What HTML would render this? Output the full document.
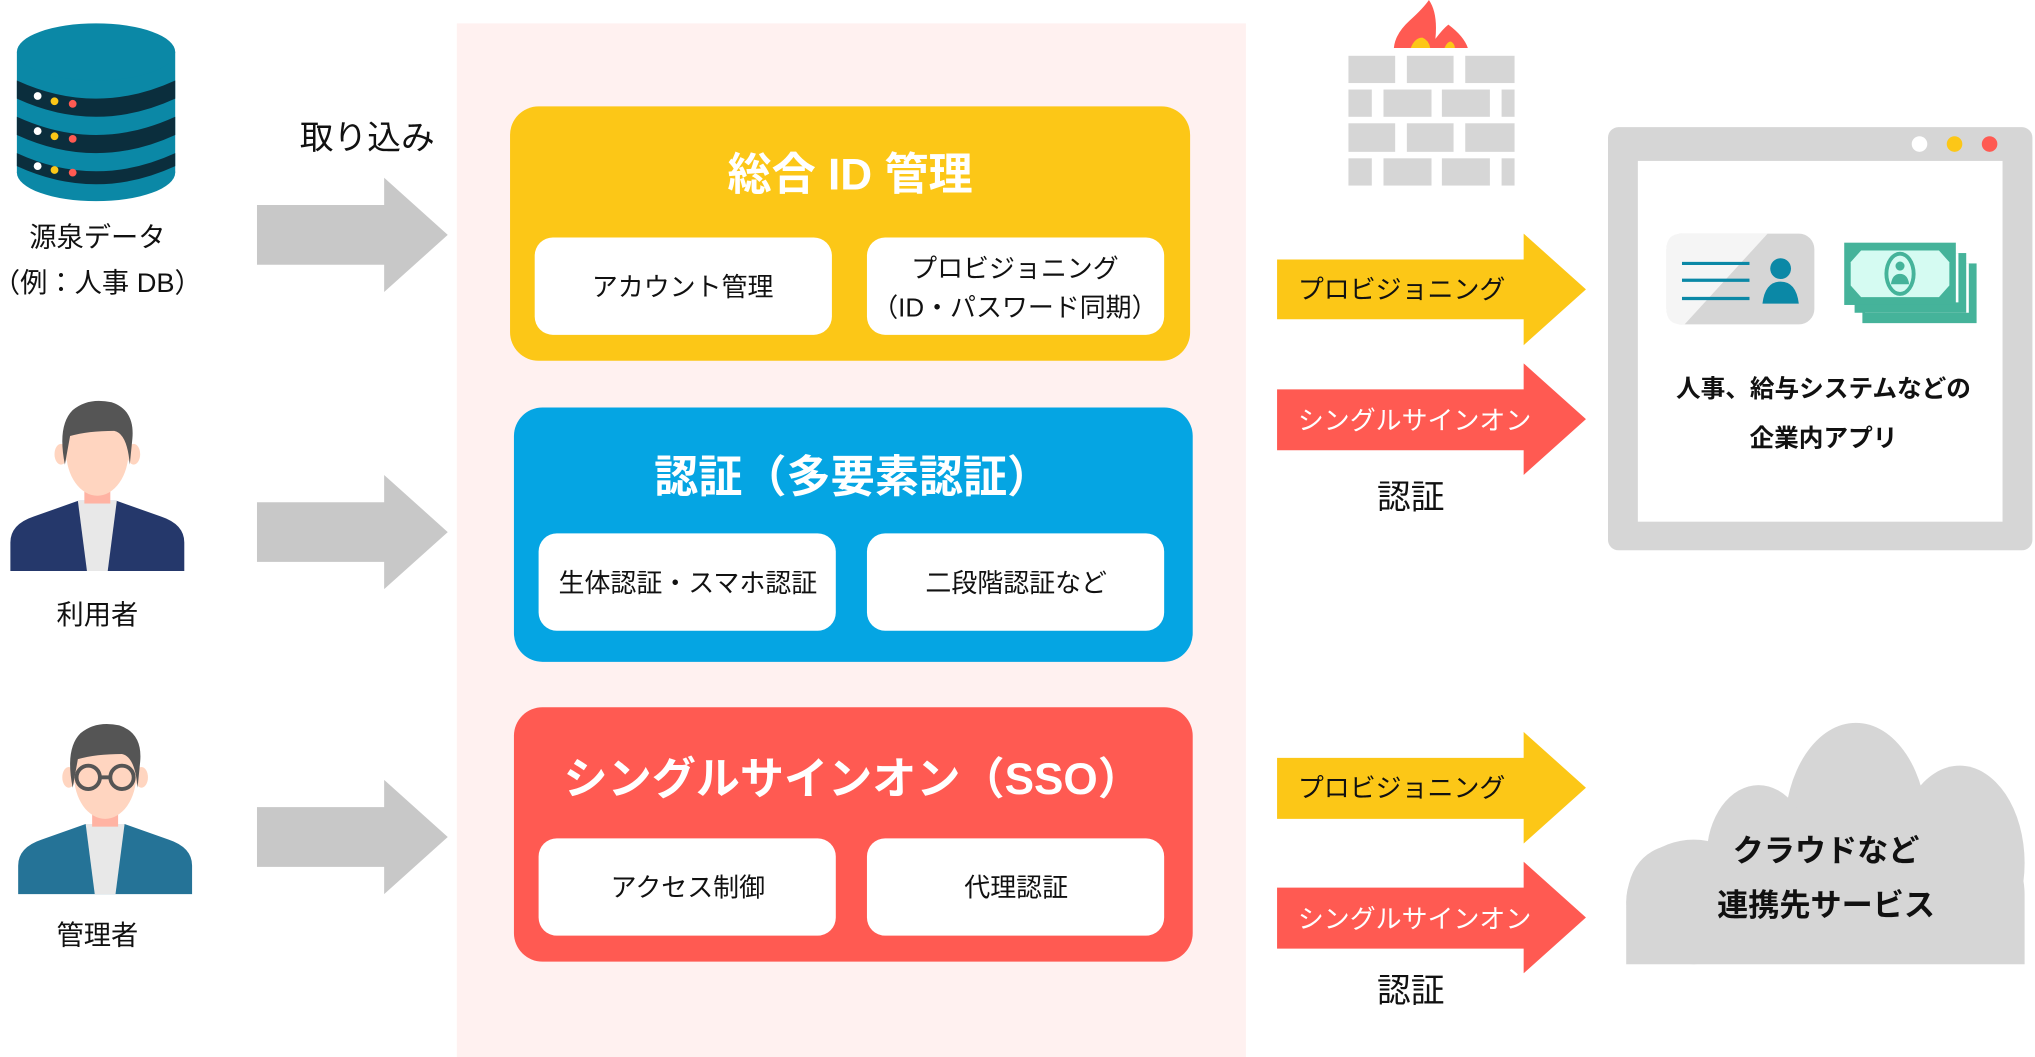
<!DOCTYPE html>
<html><head><meta charset="utf-8"><style>
html,body{margin:0;padding:0;background:#fff;}
svg{display:block;}
text{font-family:"Liberation Sans","Noto Sans CJK JP",sans-serif;}
</style></head><body>
<svg width="2035" height="1057" viewBox="0 0 1568 814.5" preserveAspectRatio="none" xmlns="http://www.w3.org/2000/svg">
<defs>
<g id="person">
  <path d="M0 132 V110 Q0 96 18 90 L52 78 L82 78 L116 90 Q134 96 134 110 V132 Z"/>
  <polygon points="52,78 82,78 75,132 59,132" fill="#e8e8e8"/>
  <rect x="57" y="56" width="20" height="24" fill="#ffb3a3"/>
  <ellipse cx="39" cy="42" rx="5" ry="8" fill="#ffd5c0"/>
  <ellipse cx="95" cy="42" rx="5" ry="8" fill="#ffd5c0"/>
  <ellipse cx="67" cy="40" rx="24" ry="34" fill="#ffd5c0"/>
  <path d="M42 50 Q36 20 48 8 Q60 -2 78 2 Q96 8 94 30 L92 50 Q90 26 80 24 Q60 24 46 28 Z" fill="#555"/>
</g>
</defs>
<rect x="352" y="18" width="608" height="797" fill="#fff1f0"/>

<g>
  <ellipse cx="74" cy="133" rx="61" ry="22" fill="#0b88a6"/>
  <rect x="13" y="40" width="122" height="93" fill="#0b88a6"/>
  <path d="M13 62 Q74 90 135 62 V76 Q74 104 13 76 Z" fill="#0b2e3d"/>
  <path d="M13 90 Q74 118 135 90 V104 Q74 132 13 104 Z" fill="#0b2e3d"/>
  <path d="M13 118 Q74 146 135 118 V128 Q74 156 13 128 Z" fill="#0b2e3d"/>
  <ellipse cx="74" cy="40" rx="61" ry="22" fill="#0b88a6"/>
  <g><circle cx="29" cy="74" r="3" fill="#fff"/><circle cx="42" cy="78" r="3" fill="#fcc717"/><circle cx="56" cy="80" r="3" fill="#ff5a52"/></g>
  <g><circle cx="29" cy="101" r="3" fill="#fff"/><circle cx="42" cy="105" r="3" fill="#fcc717"/><circle cx="56" cy="107" r="3" fill="#ff5a52"/></g>
  <g><circle cx="29" cy="128" r="3" fill="#fff"/><circle cx="42" cy="131" r="3" fill="#fcc717"/><circle cx="56" cy="133" r="3" fill="#ff5a52"/></g>
</g>
<text x="75" y="190" font-size="21" text-anchor="middle" fill="#111">源泉データ</text>
<text x="75" y="225" font-size="21" text-anchor="middle" fill="#111">（例：人事 DB）</text>

<g transform="translate(8,308)" fill="#25386b"><use href="#person"/></g>
<text x="75" y="481" font-size="21" text-anchor="middle" fill="#111">利用者</text>
<g transform="translate(14,557)" fill="#257397"><use href="#person"/>
  <circle cx="54" cy="42" r="9" fill="none" stroke="#555" stroke-width="3"/>
  <circle cx="80" cy="42" r="9" fill="none" stroke="#555" stroke-width="3"/>
  <line x1="63" y1="42" x2="71" y2="42" stroke="#555" stroke-width="3"/>
</g>
<text x="75" y="728" font-size="21" text-anchor="middle" fill="#111">管理者</text>

<text x="283" y="115" font-size="26" text-anchor="middle" fill="#111">取り込み</text>
<g fill="#c8c8c8">
  <polygon points="198,158 296,158 296,137 345,181 296,225 296,204 198,204"/>
  <polygon points="198,387 296,387 296,366 345,410 296,454 296,433 198,433"/>
  <polygon points="198,622 296,622 296,601 345,645 296,689 296,668 198,668"/>
</g>

<rect x="393" y="82" width="524" height="196" rx="22" fill="#fcc717"/>
<text x="655" y="146" font-size="34" font-weight="bold" text-anchor="middle" fill="#fff">総合 ID 管理</text>
<rect x="412" y="183" width="229" height="75" rx="14" fill="#fff"/>
<rect x="668" y="183" width="229" height="75" rx="14" fill="#fff"/>
<text x="526" y="228" font-size="20" text-anchor="middle" fill="#111">アカウント管理</text>
<text x="782" y="214" font-size="20" text-anchor="middle" fill="#111">プロビジョニング</text>
<text x="782" y="244" font-size="20" text-anchor="middle" fill="#111">（ID・パスワード同期）</text>

<rect x="396" y="314" width="523" height="196" rx="22" fill="#05a5e3"/>
<text x="657" y="379" font-size="34" font-weight="bold" text-anchor="middle" fill="#fff">認証（多要素認証）</text>
<rect x="415" y="411" width="229" height="75" rx="14" fill="#fff"/>
<rect x="668" y="411" width="229" height="75" rx="14" fill="#fff"/>
<text x="530" y="456" font-size="20" text-anchor="middle" fill="#111">生体認証・スマホ認証</text>
<text x="783" y="456" font-size="20" text-anchor="middle" fill="#111">二段階認証など</text>

<rect x="396" y="545" width="523" height="196" rx="22" fill="#ff5a52"/>
<text x="657" y="612" font-size="34" font-weight="bold" text-anchor="middle" fill="#fff">シングルサインオン（SSO）</text>
<rect x="415" y="646" width="229" height="75" rx="14" fill="#fff"/>
<rect x="668" y="646" width="229" height="75" rx="14" fill="#fff"/>
<text x="530" y="691" font-size="20" text-anchor="middle" fill="#111">アクセス制御</text>
<text x="783" y="691" font-size="20" text-anchor="middle" fill="#111">代理認証</text>

<!-- firewall -->
<path d="M1074 37 Q1075 26 1086 16 Q1097 6 1101 0 Q1108 10 1106 30 Q1112 22 1116 19 Q1128 28 1131 37 Z" fill="#ff5a52"/>
<path d="M1087 37 Q1090 29 1096 29 Q1101 31 1102 37 Z" fill="#fcc717"/>
<path d="M1113 37 Q1115 32 1118 32 Q1121 34 1121 37 Z" fill="#fcc717"/>
<g fill="#d6d6d6">
  <rect x="1039" y="43" width="36" height="21"/><rect x="1084" y="43" width="36" height="21"/><rect x="1129" y="43" width="38" height="21"/>
  <rect x="1039" y="69" width="18" height="21"/><rect x="1066" y="69" width="37" height="21"/><rect x="1111" y="69" width="37" height="21"/><rect x="1157" y="69" width="10" height="21"/>
  <rect x="1039" y="95" width="36" height="22"/><rect x="1084" y="95" width="36" height="22"/><rect x="1129" y="95" width="38" height="22"/>
  <rect x="1039" y="122" width="18" height="21"/><rect x="1066" y="122" width="37" height="21"/><rect x="1111" y="122" width="37" height="21"/><rect x="1157" y="122" width="10" height="21"/>
</g>

<polygon points="984,200 1174,200 1174,180 1222,223 1174,266 1174,246 984,246" fill="#fcc717"/>
<text x="1000" y="230" font-size="20" fill="#111">プロビジョニング</text>
<polygon points="984,300 1174,300 1174,280 1222,323 1174,366 1174,347 984,347" fill="#ff5a52"/>
<text x="1000" y="331" font-size="20" fill="#fff">シングルサインオン</text>
<text x="1087" y="392" font-size="26" text-anchor="middle" fill="#111">認証</text>

<polygon points="984,584 1174,584 1174,564 1222,607 1174,650 1174,631 984,631" fill="#fcc717"/>
<text x="1000" y="614" font-size="20" fill="#111">プロビジョニング</text>
<polygon points="984,684 1174,684 1174,664 1222,707 1174,750 1174,731 984,731" fill="#ff5a52"/>
<text x="1000" y="715" font-size="20" fill="#fff">シングルサインオン</text>
<text x="1087" y="772" font-size="26" text-anchor="middle" fill="#111">認証</text>

<rect x="1239" y="98" width="327" height="326" rx="8" fill="#d6d6d6"/>
<rect x="1262" y="124" width="281" height="278" fill="#fff"/>
<circle cx="1479" cy="111" r="6" fill="#fff"/>
<circle cx="1506" cy="111" r="6" fill="#fcc717"/>
<circle cx="1533" cy="111" r="6" fill="#ff5a52"/>
<rect x="1284" y="180" width="114" height="70" rx="12" fill="#d6d6d6"/>
<path d="M1296 180 L1362 180 L1298 250 L1296 250 Q1284 250 1284 238 V192 Q1284 180 1296 180 Z" fill="#f5f5f5"/>
<g stroke="#0b88a6" stroke-width="2.5"><line x1="1296" y1="203" x2="1348" y2="203"/><line x1="1296" y1="216" x2="1348" y2="216"/><line x1="1296" y1="230" x2="1348" y2="230"/></g>
<circle cx="1372" cy="207" r="8" fill="#0b88a6"/>
<path d="M1358 234 Q1360 217 1372 217 Q1384 217 1386 234 Z" fill="#0b88a6"/>
<rect x="1435" y="203" width="88" height="46" fill="#45b39a"/>
<rect x="1437" y="203" width="80" height="38" fill="#fff"/>
<rect x="1429" y="195" width="86" height="46" fill="#45b39a"/>
<rect x="1429" y="195" width="80" height="38" fill="#fff"/>
<rect x="1421" y="187" width="86" height="48" fill="#45b39a"/>
<path d="M1434 193 H1494 L1502 202 V220 L1494 229 H1434 L1426 220 V202 Z" fill="#d5fbf2"/>
<ellipse cx="1464" cy="211" rx="12" ry="17" fill="#45b39a"/>
<ellipse cx="1464" cy="211" rx="9" ry="14" fill="#d5fbf2"/>
<circle cx="1464" cy="205" r="3.5" fill="#45b39a"/>
<path d="M1457 219 Q1458 211 1464 211 Q1470 211 1471 219 Z" fill="#45b39a"/>
<text x="1405" y="306" font-size="19" font-weight="bold" text-anchor="middle" fill="#111">人事、給与システムなどの</text>
<text x="1405" y="344" font-size="19" font-weight="bold" text-anchor="middle" fill="#111">企業内アプリ</text>

<g fill="#d6d6d6">
  <ellipse cx="1430" cy="640" rx="55" ry="83"/>
  <ellipse cx="1355" cy="660" rx="40" ry="55"/>
  <ellipse cx="1510" cy="665" rx="50" ry="75"/>
  <ellipse cx="1305" cy="695" rx="52" ry="48"/>
  <path d="M1300 650 H1520 Q1560 650 1560 690 V743 H1253 V700 Q1253 650 1300 650 Z"/>
</g>
<text x="1407" y="664" font-size="24" font-weight="bold" text-anchor="middle" fill="#111">クラウドなど</text>
<text x="1407" y="706" font-size="24" font-weight="bold" text-anchor="middle" fill="#111">連携先サービス</text>
</svg>
</body></html>
